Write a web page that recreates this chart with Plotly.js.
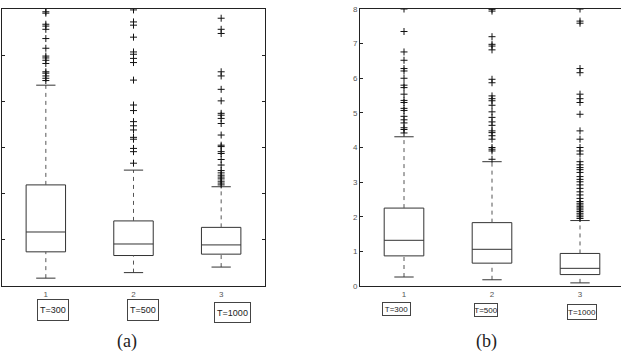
<!DOCTYPE html>
<html><head><meta charset="utf-8">
<script src="https://cdn.plot.ly/plotly-3.0.1.min.js"></script>
<style>html,body{margin:0;padding:0;overflow:hidden;background:#fff}</style>
</head><body><div id="chart"></div>
<script>
const categories = [1, 2, 3];
const tickLabels = ['1', '2', '3'];
const groupLabels = ['T=300', 'T=500', 'T=1000'];

// panel (a)
const aQ1 = [0.74, 0.66, 0.69];
const aMedian = [1.17, 0.91, 0.89];
const aQ3 = [2.19, 1.41, 1.27];
const aLower = [0.17, 0.29, 0.41];
const aUpper = [4.35, 2.51, 2.15];
const aOut1 = [6.05, 5.94, 5.91, 5.67, 5.63, 5.56, 5.36, 5.15, 4.98, 4.94, 4.89, 4.82, 4.64, 4.61, 4.55, 4.50, 4.45];
const aOut2 = [5.98, 5.72, 5.65, 5.39, 5.07, 5.02, 4.93, 4.84, 4.46, 3.92, 3.80, 3.56, 3.47, 3.38, 3.22, 3.18, 2.98, 2.91, 2.66];
const aOut3 = [5.80, 5.56, 5.47, 4.64, 4.55, 4.26, 4.01, 3.74, 3.70, 3.63, 3.52, 3.27, 3.05, 3.02, 2.91, 2.87, 2.74, 2.62, 2.50, 2.45, 2.40, 2.36, 2.32, 2.27, 2.23, 2.19];

// panel (b)
const bQ1 = [0.87, 0.66, 0.33];
const bMedian = [1.32, 1.06, 0.51];
const bQ3 = [2.25, 1.83, 0.94];
const bLower = [0.26, 0.18, 0.09];
const bUpper = [4.31, 3.59, 1.89];
const bOut1 = [8.00, 7.35, 6.76, 6.52, 6.28, 6.21, 6.00, 5.80, 5.73, 5.54, 5.36, 5.30, 5.13, 5.07, 4.90, 4.80, 4.71, 4.57, 4.52, 4.42];
const bOut2 = [7.99, 7.94, 7.20, 6.98, 6.93, 6.82, 5.97, 5.87, 5.49, 5.41, 5.35, 5.22, 5.03, 4.87, 4.74, 4.64, 4.48, 4.43, 4.34, 4.24, 4.00, 3.95, 3.90, 3.66];
const bOut3 = [8.00, 7.65, 7.59, 6.28, 6.16, 5.54, 5.41, 5.30, 4.96, 4.48, 4.24, 4.00, 3.90, 3.81, 3.59, 3.50, 3.42, 3.36, 3.28, 3.16, 3.08, 3.01, 2.92, 2.82, 2.72, 2.63, 2.53, 2.44, 2.39, 2.34, 2.29, 2.25, 2.20, 2.15, 2.10, 2.05, 2.00, 1.95];

const BOXW = 0.45, CAPH = 0.11;
const lineCol = '#333';

function panel(xa, ya, q1, med, q3, lo, hi, outs) {
  const tr = [];
  tr.push({type: 'box', x: categories, q1: q1, median: med, q3: q3,
    lowerfence: q1, upperfence: q3, width: BOXW, whiskerwidth: 0,
    fillcolor: 'rgba(255,255,255,0)', line: {color: lineCol, width: 1},
    xaxis: xa, yaxis: ya, hoverinfo: 'skip', showlegend: false});
  const wx = [], wy = [], cx = [], cy = [];
  categories.forEach((c, i) => {
    wx.push(c, c, null, c, c, null);
    wy.push(q3[i], hi[i], null, lo[i], q1[i], null);
    cx.push(c - CAPH, c + CAPH, null, c - CAPH, c + CAPH, null);
    cy.push(hi[i], hi[i], null, lo[i], lo[i], null);
  });
  tr.push({type: 'scatter', mode: 'lines', x: wx, y: wy, xaxis: xa, yaxis: ya,
    line: {color: '#555', width: 1, dash: '4px,4px'}, showlegend: false, hoverinfo: 'skip'});
  tr.push({type: 'scatter', mode: 'lines', x: cx, y: cy, xaxis: xa, yaxis: ya,
    line: {color: lineCol, width: 1}, showlegend: false, hoverinfo: 'skip'});
  outs.forEach((o, i) => {
    tr.push({type: 'scatter', mode: 'markers', x: o.map(() => categories[i]), y: o,
      xaxis: xa, yaxis: ya, showlegend: false, hoverinfo: 'skip',
      marker: {symbol: 'cross-thin', size: 5, color: '#111', line: {color: '#111', width: 1}}});
  });
  return tr;
}

const data = [].concat(
  panel('x', 'y', aQ1, aMedian, aQ3, aLower, aUpper, [aOut1, aOut2, aOut3]),
  panel('x2', 'y2', bQ1, bMedian, bQ3, bLower, bUpper, [bOut1, bOut2, bOut3])
);

const W = 650, H = 355;
const tickFont = {family: 'Liberation Sans, Arial, sans-serif', size: 8, color: '#555'};
const boxFont = {family: 'Liberation Sans Narrow, Liberation Sans, Arial, sans-serif', size: 9, color: '#222'};

const annotations = [];
const aOff = [0.08, 0.11, 0.125], aY = [-0.087, -0.087, -0.096], aW = [30, 30, 35], aH = [20, 20, 19];
const bOff = [-0.08, -0.07, 0.02], bY = [-0.083, -0.087, -0.094], bW = [27, 22, 28], bH = [12, 12, 14];
groupLabels.forEach((t, i) => {
  annotations.push({xref: 'x', yref: 'paper', x: categories[i] + aOff[i], y: aY[i],
    text: t, showarrow: false, xanchor: 'center', yanchor: 'middle',
    width: aW[i], height: aH[i], borderpad: 0, bordercolor: '#444', borderwidth: 1,
    font: boxFont});
  annotations.push({xref: 'x2', yref: 'paper', x: categories[i] + bOff[i], y: bY[i],
    text: t, showarrow: false, xanchor: 'center', yanchor: 'middle',
    width: bW[i], height: bH[i], borderpad: 0, bordercolor: '#444', borderwidth: 1,
    font: Object.assign({}, boxFont, {size: 8})});
});
const capFont = {family: 'Liberation Serif, DejaVu Serif, serif', size: 18, color: '#222'};
annotations.push({xref: 'paper', yref: 'paper', x: 127 / W, y: (286 - 341) / 277, text: '(a)',
  showarrow: false, xanchor: 'center', yanchor: 'middle', font: capFont});
annotations.push({xref: 'paper', yref: 'paper', x: 486 / W, y: (286 - 341) / 277, text: '(b)',
  showarrow: false, xanchor: 'center', yanchor: 'middle', font: capFont});

const layout = {
  width: W, height: H,
  margin: {l: 0, r: 0, t: 9, b: 69},
  paper_bgcolor: '#fff', plot_bgcolor: '#fff',
  showlegend: false,
  xaxis: {domain: [2 / W, 265 / W], range: [0.5, 3.5], tickvals: categories, ticktext: tickLabels,
    showgrid: false, zeroline: false, showline: true, mirror: true, linecolor: '#222', linewidth: 1,
    ticks: '', tickfont: tickFont, fixedrange: true},
  yaxis: {domain: [0, 1], range: [0, 6], dtick: 1, showgrid: false, zeroline: false,
    showline: true, mirror: 'ticks', linecolor: '#222', linewidth: 1,
    ticks: 'inside', ticklen: 3, tickcolor: '#222', showticklabels: false, fixedrange: true},
  xaxis2: {domain: [360 / W, 624 / W], range: [0.5, 3.5], tickvals: categories, ticktext: tickLabels,
    anchor: 'y2', showgrid: false, zeroline: false, showline: true, mirror: true,
    linecolor: '#222', linewidth: 1.3, ticks: '', tickfont: tickFont, fixedrange: true},
  yaxis2: {domain: [0, 1], range: [0, 8], dtick: 1, anchor: 'x2', showgrid: false, zeroline: false,
    showline: true, linecolor: '#222', linewidth: 1, ticks: 'inside', ticklen: 3, tickcolor: '#222',
    tickfont: tickFont, fixedrange: true},
  annotations: annotations
};

Plotly.newPlot('chart', data, layout, {displayModeBar: false, staticPlot: true});
</script></body></html>
